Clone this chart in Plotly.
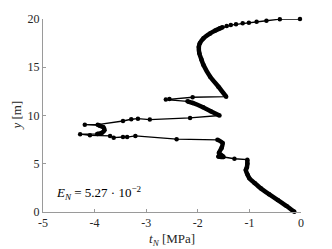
import plotly.graph_objects as go

# Path of the solution curve (t_N [MPa], y [m]), traced in order from top to bottom
path_t = [-0.02, -0.41, -0.67, -0.86, -1.01, -1.13, -1.26, -1.36, -1.44, -1.52,
          -1.57, -1.66, -1.76, -1.89, -1.96, -1.98, -1.97, -1.93, -1.89, -1.76, -1.60, -1.45,
          -2.10, -2.55, -2.62, -2.20, -2.10, -1.90, -1.75, -1.58,
          -2.15, -2.93, -3.16, -3.29, -3.45, -3.94, -4.19,
          -3.92, -3.83, -3.81, -3.86, -3.95, -4.28,
          -4.09, -3.70, -3.63, -3.45, -3.37, -3.21, -2.41, -1.62,
          -1.52, -1.54, -1.59, -1.52, -1.60, -1.50,
          -1.29, -1.04,
          -1.04, -1.05, -1.07, -1.03, -1.00, -0.90, -0.78, -0.62, -0.45, -0.28, -0.13]
path_y = [20.00, 19.98, 19.82, 19.72, 19.62, 19.55, 19.45, 19.37, 19.27, 19.15,
          19.03, 18.80, 18.50, 18.00, 17.50, 17.10, 16.44, 15.80, 15.23, 14.02, 12.98, 11.95,
          11.89, 11.70, 11.65, 11.47, 11.30, 10.85, 10.45, 10.00,
          9.75, 9.58, 9.67, 9.61, 9.43, 9.05, 9.05,
          8.98, 8.78, 8.48, 8.20, 8.08, 8.06,
          7.95, 7.88, 7.70, 7.77, 7.77, 7.88, 7.55, 7.48,
          7.15, 6.63, 6.11, 5.80, 5.75, 5.70,
          5.52, 5.42,
          5.00, 4.60, 4.35, 3.80, 3.49, 3.00, 2.45, 1.85, 1.24, 0.62, 0.02]

# index ranges of the path where samples are so dense they form a solid band
dense_ranges = [(9, 22), (25, 30), (37, 42), (50, 57), (58, 70)]

x_tick_vals = [-5, -4, -3, -2, -1, 0]
x_tick_text = ["-5", "-4", "-3", "-2", "-1", "0"]
y_tick_vals = [0, 5, 10, 15, 20]
y_tick_text = ["0", "5", "10", "15", "20"]

err_label = "<i>E</i><sub><i>N</i></sub> = 5.27 · 10<sup>−2</sup>"
x_title = "<i>t</i><sub><i>N</i></sub> [MPa]"
y_title = "<i>y</i> [m]"

thick_t, thick_y = [], []
for a, b in dense_ranges:
    thick_t += path_t[a:b] + [None]
    thick_y += path_y[a:b] + [None]

font_family = "Liberation Serif, serif"
txt_color = "#262626"

fig = go.Figure()
fig.add_trace(go.Scatter(x=thick_t, y=thick_y, mode="lines",
                         line=dict(color="black", width=4.5, shape="spline", smoothing=0.6),
                         cliponaxis=False, hoverinfo="skip", showlegend=False))
fig.add_trace(go.Scatter(x=path_t, y=path_y, mode="lines+markers",
                         line=dict(color="black", width=1.3),
                         marker=dict(color="black", size=4.5),
                         cliponaxis=False, showlegend=False))

fig.add_annotation(x=-4.78, y=1.97, xref="x", yref="y", text=err_label,
                   showarrow=False, xanchor="left", yanchor="middle",
                   font=dict(family=font_family, size=13, color="black"))
fig.add_annotation(x=0.5, y=0, xref="paper", yref="paper", text=x_title,
                   showarrow=False, xanchor="center", yanchor="middle", yshift=-27,
                   font=dict(family=font_family, size=13, color=txt_color))
fig.add_annotation(x=0, y=0.5, xref="paper", yref="paper", text=y_title,
                   showarrow=False, xanchor="center", yanchor="middle", xshift=-27,
                   textangle=-90,
                   font=dict(family=font_family, size=13, color=txt_color))

axis_common = dict(showgrid=False, zeroline=False, showline=True, linecolor="#9a9a9a",
                   linewidth=1, ticks="inside", ticklen=3, tickcolor="#9a9a9a",
                   tickfont=dict(family=font_family, size=12, color=txt_color),
                   mirror=False)

fig.update_layout(
    width=332, height=249,
    margin=dict(l=43, r=31, t=19, b=37),
    paper_bgcolor="white", plot_bgcolor="white",
    font=dict(family=font_family, size=12, color="black"),
    xaxis=dict(range=[-5, 0], tickvals=x_tick_vals, ticktext=x_tick_text, **axis_common),
    yaxis=dict(range=[0, 20], tickvals=y_tick_vals, ticktext=y_tick_text, **axis_common),
)

fig.write_html("out.html", config={"displayModeBar": False},
               post_script="document.body.style.margin='0px';")
